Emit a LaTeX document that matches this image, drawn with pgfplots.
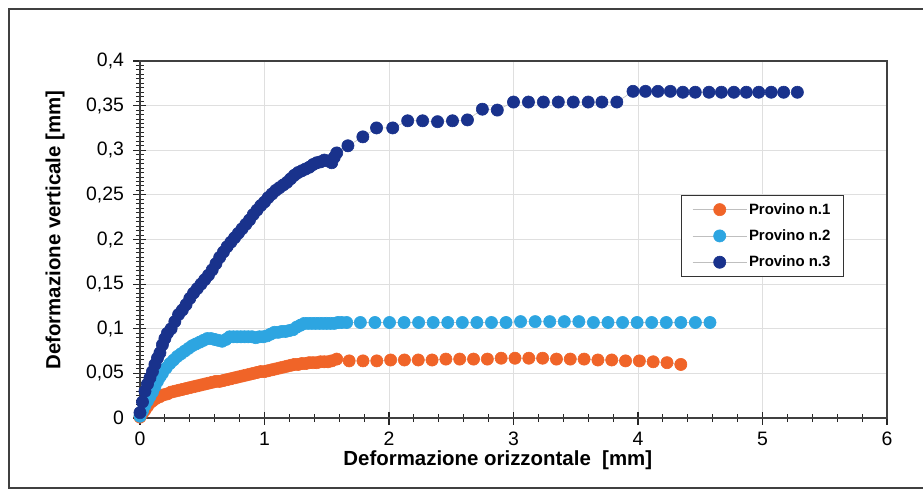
\documentclass[border=0pt]{standalone}
\usepackage{pgfplots}
\pgfplotsset{compat=1.18}
\usepackage{fontspec}
\setmainfont{Liberation Sans}
\definecolor{c1}{RGB}{240,100,40}
\definecolor{c2}{RGB}{45,165,225}
\definecolor{c3}{RGB}{25,50,140}
\begin{document}
\begin{tikzpicture}
\path[use as bounding box] (-140bp,-74bp) rectangle (783bp,418bp);
\draw[black!75, line width=1.8bp] (783bp,409bp) -- (-131bp,409bp) -- (-131bp,-70bp) -- (783bp,-70bp);
\begin{axis}[
  at={(0,0)}, anchor=south west,
  scale only axis, width=747bp, height=357bp,
  xmin=0, xmax=6, ymin=0, ymax=0.4,
  xtick={0,1,2,3,4,5,6},
  xticklabels={0,1,2,3,4,5,6},
  ytick={0,0.05,0.1,0.15,0.2,0.25,0.3,0.35,0.4},
  yticklabels={0,{0,05},{0,1},{0,15},{0,2},{0,25},{0,3},{0,35},{0,4}},
  xtick pos=bottom, ytick pos=left,
  minor x tick num=4, minor y tick num=9,
  grid=major, major grid style={gray!25, line width=0.8bp},
  axis line style={black!75, line width=1.5bp},
  major tick style={black!85, line width=1.2bp},
  minor tick style={black!85, line width=1bp},
  major tick length=13bp, minor tick length=8bp,
  tick align=center,
  ticklabel style={font=\fontsize{19.5}{22}\selectfont},
  yticklabel style={xshift=-6bp},
  xticklabel style={yshift=-4bp},
  xlabel={Deformazione orizzontale \ [mm]},
  ylabel={Deformazione verticale [mm]},
  label style={font=\bfseries\fontsize{20.5}{24}\selectfont},
  xlabel style={at={(axis description cs:0.479,-0.1175)}, anchor=center},
  ylabel style={at={(axis description cs:-0.1138,0.5266)}, anchor=center},
  legend style={at={(axis description cs:0.724,0.625)}, anchor=north west,
    draw=black!80, line width=1.2bp, fill=white,
    font=\bfseries\fontsize{15}{18}\selectfont, row sep=10bp,
    inner xsep=11bp, inner ysep=6bp},
  legend cell align=left,
  legend image code/.code={\draw[#1, mark repeat=2, mark phase=2] plot coordinates {(0bp,0bp) (27bp,0bp) (54bp,0bp)};},
]
\addplot[color=gray!50, line width=0.6bp, mark=*, mark size=6.1bp, mark options={fill=c1, draw=c1}] coordinates {
(0.00,0.001)(0.02,0.005)(0.04,0.009)(0.06,0.013)(0.08,0.017)(0.10,0.019)(0.13,0.022)(0.16,0.024)(0.19,0.026)(0.22,0.027)
(0.25,0.029)(0.28,0.030)(0.31,0.031)(0.34,0.032)(0.37,0.033)(0.40,0.034)(0.43,0.035)(0.46,0.036)(0.49,0.037)(0.52,0.038)
(0.55,0.039)(0.58,0.040)(0.61,0.041)(0.64,0.041)(0.67,0.042)(0.70,0.043)(0.73,0.044)(0.76,0.045)(0.79,0.046)(0.82,0.047)
(0.85,0.048)(0.88,0.049)(0.91,0.050)(0.94,0.051)(0.97,0.052)(1.00,0.052)(1.03,0.053)(1.06,0.054)(1.09,0.055)(1.12,0.056)
(1.15,0.057)(1.18,0.058)(1.21,0.059)(1.24,0.060)(1.27,0.060)(1.30,0.061)(1.33,0.061)(1.36,0.062)(1.39,0.062)(1.42,0.062)
(1.45,0.063)(1.48,0.063)(1.51,0.063)(1.54,0.064)(1.58,0.066)
(1.680,0.064)(1.791,0.064)(1.902,0.064)(2.013,0.065)(2.124,0.065)(2.235,0.065)(2.346,0.065)(2.457,0.066)(2.568,0.066)
(2.679,0.066)(2.790,0.066)(2.901,0.067)(3.012,0.067)(3.123,0.067)(3.234,0.067)(3.345,0.066)(3.456,0.066)(3.567,0.066)
(3.678,0.065)(3.789,0.065)(3.900,0.064)(4.011,0.064)(4.122,0.063)(4.233,0.062)(4.344,0.060)
};
\addlegendentry{Provino n.1}
\addplot[color=gray!50, line width=0.6bp, mark=*, mark size=6.1bp, mark options={fill=c2, draw=c2}] coordinates {
(0.00,0.002)(0.02,0.008)(0.04,0.014)(0.06,0.019)(0.08,0.024)(0.10,0.029)(0.12,0.035)(0.14,0.041)(0.16,0.046)(0.18,0.050)
(0.21,0.056)(0.24,0.061)(0.27,0.065)(0.30,0.069)(0.33,0.072)(0.36,0.075)(0.39,0.078)(0.42,0.081)(0.45,0.083)(0.48,0.085)
(0.51,0.087)(0.54,0.089)(0.57,0.089)(0.60,0.088)(0.63,0.087)(0.66,0.086)(0.69,0.088)(0.72,0.091)(0.75,0.091)(0.78,0.091)
(0.81,0.091)(0.84,0.091)(0.87,0.091)(0.90,0.091)(0.93,0.090)(0.96,0.091)(0.99,0.091)(1.02,0.092)(1.05,0.094)(1.08,0.096)
(1.11,0.096)(1.14,0.097)(1.17,0.097)(1.20,0.098)(1.23,0.099)(1.26,0.102)(1.29,0.104)(1.32,0.106)(1.35,0.106)(1.38,0.106)
(1.41,0.106)(1.44,0.106)(1.47,0.106)(1.50,0.106)(1.53,0.106)(1.56,0.106)(1.59,0.107)(1.62,0.107)(1.66,0.107)
(1.770,0.107)(1.887,0.107)(2.004,0.107)(2.121,0.107)(2.238,0.107)(2.355,0.107)(2.472,0.107)(2.589,0.107)(2.706,0.107)
(2.823,0.107)(2.940,0.107)(3.057,0.108)(3.174,0.108)(3.291,0.108)(3.408,0.108)(3.525,0.108)(3.642,0.107)(3.759,0.107)
(3.876,0.107)(3.993,0.107)(4.110,0.107)(4.227,0.107)(4.344,0.107)(4.461,0.107)(4.578,0.107)
};
\addlegendentry{Provino n.2}
\addplot[color=gray!50, line width=0.6bp, mark=*, mark size=6.1bp, mark options={fill=c3, draw=c3}] coordinates {
(0.00,0.006)(0.02,0.018)(0.04,0.030)(0.06,0.038)(0.08,0.045)(0.10,0.052)(0.12,0.060)(0.14,0.067)(0.16,0.073)(0.18,0.082)
(0.20,0.089)(0.22,0.095)(0.25,0.100)(0.28,0.108)(0.31,0.116)(0.34,0.121)(0.37,0.127)(0.40,0.134)(0.43,0.140)(0.46,0.145)
(0.49,0.150)(0.52,0.155)(0.55,0.160)(0.58,0.166)(0.61,0.173)(0.64,0.180)(0.67,0.186)(0.70,0.192)(0.73,0.197)(0.76,0.202)
(0.79,0.207)(0.82,0.212)(0.85,0.217)(0.88,0.222)(0.91,0.228)(0.94,0.233)(0.97,0.238)(1.00,0.242)(1.03,0.247)(1.06,0.251)
(1.09,0.255)(1.12,0.258)(1.15,0.261)(1.18,0.264)(1.21,0.268)(1.24,0.272)(1.27,0.275)(1.30,0.277)(1.33,0.279)(1.36,0.281)
(1.39,0.284)(1.42,0.286)(1.45,0.287)(1.48,0.289)(1.51,0.288)(1.54,0.286)(1.56,0.292)(1.58,0.297)
(1.67,0.305)(1.79,0.315)(1.90,0.325)(2.03,0.325)(2.15,0.333)(2.27,0.333)(2.39,0.332)(2.51,0.333)(2.63,0.334)(2.75,0.346)
(2.87,0.345)(3.00,0.354)(3.12,0.354)(3.24,0.354)(3.36,0.354)(3.48,0.354)(3.60,0.354)(3.71,0.354)(3.83,0.354)
(3.96,0.366)(4.06,0.366)(4.16,0.366)(4.26,0.366)(4.36,0.365)(4.46,0.365)(4.57,0.365)(4.67,0.365)(4.77,0.365)(4.87,0.365)
(4.97,0.365)(5.07,0.365)(5.17,0.365)(5.28,0.365)
};
\addlegendentry{Provino n.3}
\end{axis}
\end{tikzpicture}
\end{document}
